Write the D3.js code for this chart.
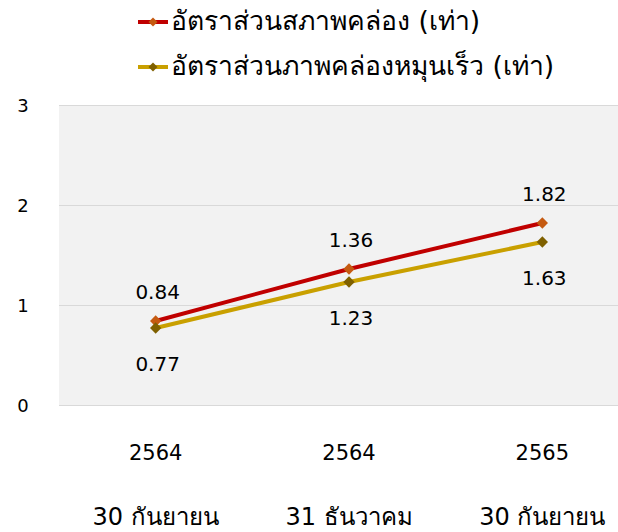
<!DOCTYPE html>
<html>
<head>
<meta charset="utf-8">
<script src="https://cdn.jsdelivr.net/npm/d3@7"></script>
<style>
  body { margin: 0; background: #fff; }
  svg text { font-family: Tahoma, "DejaVu Sans", "Noto Sans", sans-serif; fill: #000; }
</style>
</head>
<body>
<svg id="chart" width="618" height="532"></svg>
<script>
const years = ['2564', '2564', '2565'];
const dates = ['30 กันยายน', '31 ธันวาคม', '30 กันยายน'];
const currentRatio = [0.84, 1.36, 1.82];
const quickRatio = [0.77, 1.23, 1.63];
const yTicks = [0, 1, 2, 3];
const seriesNames = ['อัตราส่วนสภาพคล่อง (เท่า)', 'อัตราส่วนภาพคล่องหมุนเร็ว (เท่า)'];

const series = [
    { name: seriesNames[0], values: currentRatio, line: '#C00000', marker: '#C55A11', labelDy: -28 },
    { name: seriesNames[1], values: quickRatio, line: '#C9A000', marker: '#7F6000', labelDy: 37 }
];

const svg = d3.select('#chart');
const margin = { top: 105, left: 59 };
const plotW = 580;
const plotH = 300;

const x = d3.scaleBand()
    .domain(d3.range(years.length))
    .range([margin.left, margin.left + plotW]);
const y = d3.scaleLinear()
    .domain([0, 3])
    .range([margin.top + plotH, margin.top]);

// plot background
svg.append('rect')
    .attr('x', margin.left)
    .attr('y', margin.top)
    .attr('width', plotW)
    .attr('height', plotH)
    .attr('fill', '#F2F2F2');

// gridlines
svg.append('g')
    .selectAll('line')
    .data(yTicks)
    .join('line')
    .attr('x1', margin.left)
    .attr('x2', margin.left + plotW)
    .attr('y1', d => y(d) + 0.5)
    .attr('y2', d => y(d) + 0.5)
    .attr('stroke', '#D9D9D9')
    .attr('stroke-width', 1);

// y labels
svg.append('g')
    .selectAll('text')
    .data(yTicks)
    .join('text')
    .attr('x', 23)
    .attr('y', d => y(d) + 2)
    .attr('text-anchor', 'middle')
    .attr('dominant-baseline', 'middle')
    .style('font-size', '18px')
    .text(d => d);

// x labels
const cx = i => x(i) + x.bandwidth() / 2;
svg.append('g')
    .selectAll('text')
    .data(years)
    .join('text')
    .attr('x', (d, i) => cx(i))
    .attr('y', 460)
    .attr('text-anchor', 'middle')
    .style('font-size', '21px')
    .text(d => d);
svg.append('g')
    .selectAll('text')
    .data(dates)
    .join('text')
    .attr('x', (d, i) => cx(i))
    .attr('y', 525)
    .attr('text-anchor', 'middle')
    .style('font-size', '24px')
    .text(d => d);

const line = d3.line()
    .x((d, i) => cx(i))
    .y(d => y(d));
// square turned 45 degrees, like the office-style diamond marker
const marker = d3.symbol().type(d3.symbolSquare).size(64);

series.forEach((s) => {
    svg.append('path')
        .attr('d', line(s.values))
        .attr('fill', 'none')
        .attr('stroke', s.line)
        .attr('stroke-width', 4);

    svg.append('g')
        .selectAll('path')
        .data(s.values)
        .join('path')
        .attr('d', marker)
        .attr('transform', (d, i) => `translate(${cx(i)},${y(d)}) rotate(45)`)
        .attr('fill', s.marker);

    svg.append('g')
        .selectAll('text')
        .data(s.values)
        .join('text')
        .attr('x', (d, i) => cx(i) + 2)
        .attr('y', d => y(d) + s.labelDy)
        .attr('text-anchor', 'middle')
        .attr('dominant-baseline', 'middle')
        .style('font-size', '20px')
        .text(d => d.toFixed(2));
});

// legend
const legend = svg.append('g');
series.forEach((s, i) => {
    const ly = 22 + i * 45;
    legend.append('line')
        .attr('x1', 138)
        .attr('x2', 168)
        .attr('y1', ly)
        .attr('y2', ly)
        .attr('stroke', s.line)
        .attr('stroke-width', 4);
    legend.append('path')
        .attr('d', d3.symbol().type(d3.symbolSquare).size(40))
        .attr('transform', `translate(153,${ly}) rotate(45)`)
        .attr('fill', s.marker);
    legend.append('text')
        .attr('x', 171)
        .attr('y', ly)
        .attr('dominant-baseline', 'middle')
        .style('font-size', '26.5px')
        .text(s.name);
});
</script>
</body>
</html>
